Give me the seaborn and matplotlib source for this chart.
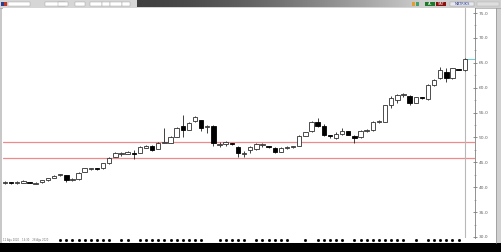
import numpy as np
import pandas as pd
import matplotlib
matplotlib.use("Agg")
import matplotlib.pyplot as plt
from matplotlib.patches import Rectangle
import seaborn as sns

# ---------------- data ----------------
opens = [40.8, 41.0, 40.8, 40.9, 41.1, 40.7, 41.0, 41.4, 41.9, 42.4,
         42.4, 41.5, 41.6, 43.1, 43.7, 43.8, 43.8, 44.8, 46.1, 46.7,
         46.7, 46.9, 46.9, 47.9, 48.3, 47.7, 48.9, 48.9, 50.1, 52.3,
         51.5, 53.3, 53.5, 52.1, 52.3, 48.5, 48.7, 48.8, 48.1, 46.7,
         47.5, 47.7, 48.4, 48.2, 47.9, 47.1, 47.85, 48.0, 48.3, 50.3,
         51.2, 53.2, 52.2, 50.3, 49.9, 50.7, 51.2, 50.3, 50.0, 51.3,
         51.4, 53.2, 53.2, 56.5, 57.5, 58.5, 58.3, 57.0, 58.0, 57.7,
         60.5, 61.9, 63.2, 61.9, 63.7, 63.5]
closes = [41.1, 40.8, 41.1, 41.3, 40.9, 40.9, 41.4, 41.8, 42.3, 42.45,
          41.5, 41.55, 42.9, 43.8, 43.75, 43.6, 44.8, 45.9, 46.9, 46.75,
          47.1, 46.6, 48.1, 48.3, 47.5, 48.9, 49.0, 50.1, 51.9, 51.5,
          53.0, 54.1, 51.9, 52.2, 48.9, 48.6, 49.0, 48.6, 46.9, 46.8,
          48.0, 48.7, 48.5, 48.0, 47.1, 47.9, 47.95, 48.1, 50.2, 51.0,
          53.2, 52.3, 50.5, 50.2, 50.7, 51.2, 50.5, 49.8, 51.3, 51.35,
          53.2, 53.25, 56.5, 57.9, 58.5, 58.55, 57.0, 58.1, 57.9, 60.5,
          61.5, 63.5, 61.9, 63.9, 63.6, 65.8]
highs = [41.2, 41.1, 41.3, 41.4, 41.1, 41.0, 41.5, 41.9, 42.4, 42.6,
         42.5, 41.8, 43.0, 43.9, 43.9, 43.8, 44.9, 46.0, 47.0, 47.0,
         47.3, 47.5, 48.2, 48.5, 48.4, 49.1, 51.9, 50.3, 52.1, 54.6,
         53.2, 54.4, 53.6, 52.5, 52.4, 49.0, 49.2, 48.9, 48.2, 47.3,
         48.2, 48.9, 48.8, 48.3, 48.0, 48.0, 48.2, 48.3, 50.4, 51.1,
         53.4, 54.0, 52.8, 50.5, 51.0, 51.8, 51.3, 50.4, 51.4, 51.6,
         53.3, 53.5, 56.6, 58.3, 58.7, 58.9, 58.5, 58.2, 58.2, 60.7,
         61.7, 64.2, 63.9, 64.0, 63.8, 66.0]
lows = [40.7, 40.7, 40.7, 40.8, 40.8, 40.6, 40.9, 41.3, 41.8, 42.3,
        41.0, 41.3, 41.5, 43.0, 43.5, 43.5, 43.7, 44.7, 46.0, 46.3,
        46.6, 45.7, 46.8, 47.8, 47.2, 47.6, 48.8, 48.8, 50.0, 50.1,
        51.4, 53.2, 51.2, 50.8, 48.3, 48.0, 48.2, 48.4, 46.0, 46.1,
        46.9, 47.5, 48.0, 47.9, 46.9, 47.0, 47.7, 47.8, 48.2, 50.2,
        51.1, 52.0, 50.3, 49.8, 49.6, 50.5, 50.4, 48.8, 49.9, 51.1,
        51.3, 53.0, 53.1, 56.0, 57.0, 58.2, 56.6, 56.9, 57.8, 57.5,
        60.4, 61.8, 61.2, 61.8, 63.5, 63.4]
levels = [49.1, 45.8]
ytick_vals = [30, 35, 40, 45, 50, 55, 60, 65, 70, 75]
ytick_labels = ["30.0", "35.0", "40.0", "45.0", "50.0", "55.0", "60.0", "65.0", "70.0", "75.0"]
date_tick_idx = [9, 10, 11, 12, 13, 14, 15, 16, 17, 19, 20, 22, 23, 24, 25, 26, 27, 28,
                 29, 30, 31, 32, 35, 36, 37, 38, 39, 41, 42, 43, 44, 45, 46, 49, 51, 52,
                 53, 54, 55, 57, 58, 59, 60, 61, 62, 63, 64, 65, 67, 69, 70, 71, 72, 73, 74]

df = pd.DataFrame({"open": opens, "close": closes, "high": highs, "low": lows})
df["i"] = np.arange(len(df))
df["bottom"] = df[["open", "close"]].min(axis=1)
df["height"] = (df["close"] - df["open"]).abs().clip(lower=0.2)
df["up"] = df["close"] >= df["open"]

sns.set_theme(style="white")
plt.rcParams["font.family"] = ["DejaVu Sans"]

W, H = 501, 252
fig = plt.figure(figsize=(W / 100, H / 100), dpi=100)
fig.patch.set_facecolor("white")

# background/decoration axes in pixel coords
bg = fig.add_axes([0, 0, 1, 1])
bg.axis("off")
# toolbar
bg.add_patch(Rectangle((0, 0), W, 7.5, color="#d6d6d6", lw=0))
grad = np.linspace(0, 1, 256)[None, :]
bg.imshow(np.dstack([0.25 + 0.55 * grad ** 1.5] * 3), extent=(137, 420, 7.5, 0), aspect="auto", zorder=1)
bg.add_patch(Rectangle((420, 0), 81, 7.5, color="#cfcfcf", lw=0, zorder=1))
for x0, w in [(8, 22), (45, 20), (58, 10), (75, 10), (90, 12), (102, 8), (110, 12), (122, 8)]:
    bg.add_patch(Rectangle((x0, 1.5), w, 4.5, facecolor="white", edgecolor="#9a9a9a", lw=0.3, zorder=2))
bg.add_patch(Rectangle((1, 1.5), 4, 4.5, color="#2b3f8c", lw=0, zorder=2))
bg.add_patch(Rectangle((4.5, 1.5), 3, 4.5, color="#c0392b", lw=0, zorder=2))
bg.add_patch(Rectangle((412, 1.5), 3, 4.5, color="#e0a030", lw=0, zorder=2))
bg.add_patch(Rectangle((416, 1.5), 3, 4.5, color="#40a070", lw=0, zorder=2))
bg.add_patch(Rectangle((425, 1.5), 10, 4.5, color="#1e7a2a", lw=0, zorder=2))
bg.text(430, 4, "AL", fontsize=2.5, color="white", ha="center", va="center", zorder=3)
bg.add_patch(Rectangle((436, 1.5), 10, 4.5, color="#8b1010", lw=0, zorder=2))
bg.text(441, 4, "SAT", fontsize=2.5, color="white", ha="center", va="center", zorder=3)
bg.add_patch(Rectangle((450, 1.5), 24, 4.5, facecolor="#e8e8f0", edgecolor="#9a9a9a", lw=0.3, zorder=2))
bg.text(462, 4, "MATRIKS", fontsize=2.5, color="#2b3f8c", ha="center", va="center", zorder=3)
bg.add_patch(Rectangle((477, 1.5), 22, 4.5, facecolor="#dedede", edgecolor="#b0b0b0", lw=0.3, zorder=2))
# frame lines
bg.plot([0, W], [7.8, 7.8], color="#a0a0a0", lw=0.5)
bg.add_patch(Rectangle((0, 8), 2.2, 235, color="#c8c8c8", lw=0))
bg.add_patch(Rectangle((496, 8), 5, 235, color="#d0d0d0", lw=0))
bg.plot([496, 496], [8, 243], color="#909090", lw=0.5)
bg.add_patch(Rectangle((0, 243), W, 9, color="black", lw=0))
bg.text(3, 240.5, "12 Ağu 2020    14:30    28 Ağu 2020", fontsize=1.8, color="#707070", va="center")
bg.set_xlim(0, W)
bg.set_ylim(H, 0)

# main price axes
x0px, x1px, ytop, ybot = 3, 475, 8, 238
ax = fig.add_axes([x0px / W, (H - ybot) / H, (x1px - x0px) / W, (ybot - ytop) / H])
ax.set_facecolor("white")
step = 6.13
ax.set_xlim(-2 / step, (x1px - x0px - 2) / step)
ax.set_ylim(75 - 225 * 45 / 224, 75 + 5 * 45 / 224)

for lv in levels:
    ax.axhline(lv, color="#f08a8a", lw=0.9, zorder=1)
ax.axvline(df["i"].iloc[-1], color="#b8b8b8", lw=0.8, zorder=1)
ax.plot([df["i"].iloc[-1], ax.get_xlim()[1]], [closes[-1], closes[-1]], color="#40d0d0", lw=0.6, zorder=1)

ax.vlines(df["i"], df["low"], df["high"], color="#202020", lw=0.6, zorder=2)
up = df[df["up"]]
dn = df[~df["up"]]
ax.bar(up["i"], up["height"], bottom=up["bottom"], width=0.72, facecolor="white",
       edgecolor="#303030", linewidth=0.6, zorder=3)
ax.bar(dn["i"], dn["height"], bottom=dn["bottom"], width=0.72, facecolor="black",
       edgecolor="black", linewidth=0.6, zorder=3)

for s in ["left", "top", "bottom"]:
    ax.spines[s].set_visible(False)
ax.spines["right"].set_color("#808080")
ax.spines["right"].set_linewidth(0.6)
ax.yaxis.tick_right()
ax.set_yticks(ytick_vals)
ax.set_yticklabels(ytick_labels)
ax.set_yticks(np.arange(32.5, 76, 5), minor=True)
ax.tick_params(axis="y", which="major", direction="inout", length=3, width=0.5,
               color="#606060", labelsize=3.2, labelcolor="#606060", pad=1)
ax.tick_params(axis="y", which="minor", direction="inout", length=2, width=0.4, color="#808080")
ax.set_xticks([])

# bottom date-tick dots
ax.plot(date_tick_idx, [ax.get_ylim()[0] - 0.45] * len(date_tick_idx), "s", ms=1.0,
        color="black", clip_on=False, zorder=4)
ax.grid(False)

fig.savefig("out.png", dpi=100, facecolor=fig.get_facecolor())
